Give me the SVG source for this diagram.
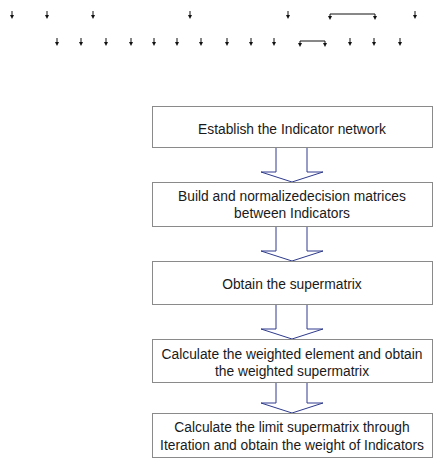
<svg xmlns="http://www.w3.org/2000/svg" width="433" height="460" viewBox="0 0 433 460">
<defs>
<marker id="ah" markerWidth="4" markerHeight="4" refX="2" refY="2" orient="auto" markerUnits="userSpaceOnUse"><path d="M0,0 L4,2 L0,4 z" fill="#111"/></marker>
<style>
.box{fill:#fff;stroke:#8a8a8a;stroke-width:1}
.t{font-family:"Liberation Sans",Arial,sans-serif;font-size:13.8px;fill:#1a1a1a;text-anchor:middle}
.blk{fill:#fff;stroke:#2e3a8c;stroke-width:1}
.sm{stroke:#111;stroke-width:1;fill:none}
</style>
</defs>
<rect width="433" height="460" fill="#fff"/>
<g id="hierarchy">
<g class="sm">
<path d="M12,11 V17" marker-end="url(#ah)"/>
<path d="M47,11 V17" marker-end="url(#ah)"/>
<path d="M93,11 V17" marker-end="url(#ah)"/>
<path d="M190,11 V17" marker-end="url(#ah)"/>
<path d="M288,11 V17" marker-end="url(#ah)"/>
<path d="M330,14 H375" />
<path d="M330,14 V18" marker-end="url(#ah)"/>
<path d="M375,14 V18" marker-end="url(#ah)"/>
<path d="M415,11 V17" marker-end="url(#ah)"/>
<path d="M57,38 V44" marker-end="url(#ah)"/>
<path d="M81,38 V44" marker-end="url(#ah)"/>
<path d="M106,38 V44" marker-end="url(#ah)"/>
<path d="M131,38 V44" marker-end="url(#ah)"/>
<path d="M154,38 V44" marker-end="url(#ah)"/>
<path d="M177,38 V44" marker-end="url(#ah)"/>
<path d="M201,38 V44" marker-end="url(#ah)"/>
<path d="M227,38 V44" marker-end="url(#ah)"/>
<path d="M251,38 V44" marker-end="url(#ah)"/>
<path d="M274,38 V44" marker-end="url(#ah)"/>
<path d="M300,41 H325"/>
<path d="M300,41 V45" marker-end="url(#ah)"/>
<path d="M325,41 V45" marker-end="url(#ah)"/>
<path d="M350,38 V44" marker-end="url(#ah)"/>
<path d="M374,38 V44" marker-end="url(#ah)"/>
<path d="M400,38 V44" marker-end="url(#ah)"/>
</g>
</g>
<g id="connectors">
<path class="blk" d="M276,147 V172 H261 L292,182 L323,172 H307 V147"/>
<path class="blk" d="M276,226 V251 H261 L292,261 L323,251 H307 V226"/>
<path class="blk" d="M276,305 V329 H261 L292,339 L323,329 H307 V305"/>
<path class="blk" d="M276,382 V403 H261 L292,413 L323,403 H307 V382"/>
</g>
<g id="n1"><rect class="box" x="152.5" y="106.5" width="280" height="41"/><text class="t" x="292" y="134">Establish the Indicator network</text></g>
<g id="n2"><rect class="box" x="152.5" y="182.5" width="280" height="44"/><text class="t" x="292" y="201">Build and normalizedecision matrices</text><text class="t" x="292" y="218">between Indicators</text></g>
<g id="n3"><rect class="box" x="152.5" y="261.5" width="280" height="43"/><text class="t" x="292" y="289">Obtain the supermatrix</text></g>
<g id="n4"><rect class="box" x="152.5" y="339.5" width="280" height="43"/><text class="t" x="292" y="359">Calculate the weighted element and obtain</text><text class="t" x="292" y="376">the weighted supermatrix</text></g>
<g id="n5"><rect class="box" x="152.5" y="413.5" width="280" height="44"/><text class="t" x="292" y="432">Calculate the limit supermatrix through</text><text class="t" x="292" y="450">Iteration and obtain the weight of Indicators</text></g>
</svg>
